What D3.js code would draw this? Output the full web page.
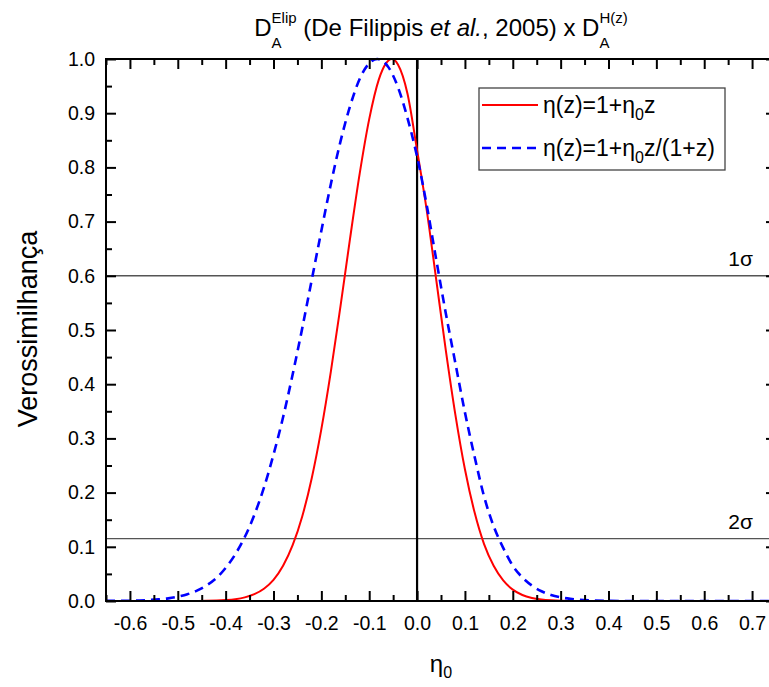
<!DOCTYPE html>
<html><head><meta charset="utf-8">
<script src="https://cdn.jsdelivr.net/npm/d3@7"></script>
<style>body{margin:0;background:#fff}svg{display:block}text{font-family:"Liberation Sans",Arial,sans-serif;white-space:pre}</style>
</head><body>
<svg id="c" width="769" height="687"></svg>
<script>
// ---- data ----
const etaRed = [-0.65,-0.50,-0.44,-0.40,-0.38,-0.36,-0.34,-0.32,-0.30,-0.28,-0.26,-0.24,-0.22,-0.20,-0.18,-0.16,-0.14,-0.12,-0.10,-0.08,-0.065,-0.053,-0.04,-0.02,0.00,0.02,0.04,0.06,0.08,0.10,0.12,0.14,0.16,0.18,0.20,0.22,0.24,0.26,0.28,0.30,0.35,0.75];
const likeRed = [0,0,0.0003,0.0017,0.0034,0.0067,0.0126,0.0226,0.039,0.065,0.103,0.156,0.227,0.317,0.424,0.544,0.669,0.788,0.889,0.962,0.992,1.000,0.990,0.936,0.832,0.722,0.593,0.463,0.344,0.243,0.164,0.105,0.065,0.038,0.021,0.011,0.0056,0.0027,0.0012,0.0005,0,0];
const etaBlue = [-0.65,-0.60,-0.58,-0.56,-0.54,-0.52,-0.50,-0.48,-0.46,-0.44,-0.42,-0.40,-0.38,-0.36,-0.34,-0.32,-0.30,-0.28,-0.26,-0.24,-0.22,-0.20,-0.18,-0.16,-0.14,-0.12,-0.10,-0.083,-0.06,-0.04,-0.02,0.00,0.02,0.04,0.06,0.08,0.10,0.12,0.14,0.16,0.18,0.20,0.22,0.24,0.26,0.28,0.30,0.32,0.34,0.36,0.40,0.45,0.75];
const likeBlue = [0.0002,0.0006,0.0010,0.0018,0.0030,0.0049,0.0079,0.0124,0.0191,0.0288,0.042,0.061,0.086,0.118,0.159,0.209,0.270,0.339,0.418,0.503,0.593,0.683,0.770,0.848,0.913,0.963,0.992,1.000,0.985,0.948,0.891,0.820,0.731,0.630,0.531,0.439,0.348,0.267,0.193,0.138,0.098,0.065,0.0435,0.0284,0.018,0.011,0.0067,0.0039,0.0022,0.0012,0.0003,0,0];
const sigmaLevels = [0.60, 0.115];
const sigmaLabels = ["1σ", "2σ"];
const xMajorTicks = [-0.6,-0.5,-0.4,-0.3,-0.2,-0.1,0.0,0.1,0.2,0.3,0.4,0.5,0.6,0.7];
const xMinorTicks = [-0.65,-0.55,-0.45,-0.35,-0.25,-0.15,-0.05,0.05,0.15,0.25,0.35,0.45,0.55,0.65,0.75];
const yMajorTicks = [0.0,0.1,0.2,0.3,0.4,0.5,0.6,0.7,0.8,0.9,1.0];
const yMinorTicks = [0.05,0.15,0.25,0.35,0.45,0.55,0.65,0.75,0.85,0.95];

const svg = d3.select("#c");
const L=106, R=776, T=59, B=601;
const x = d3.scaleLinear().domain([-0.65,0.75]).range([L,R]);
const y = d3.scaleLinear().domain([0,1]).range([B,T]);
const fmt = d => (Math.abs(d) < 1e-9 ? 0 : d).toFixed(1);
const tickFont = 19.5;

svg.append("clipPath").attr("id","clip").append("rect").attr("x",L).attr("y",T-3).attr("width",R-L).attr("height",B-T+3);

// sigma lines
svg.append("g").selectAll("line").data(sigmaLevels).join("line")
  .attr("x1",L).attr("x2",R).attr("y1",d=>y(d)).attr("y2",d=>y(d))
  .attr("stroke","#555").attr("stroke-width",1.4);
svg.append("g").selectAll("text").data(sigmaLevels).join("text")
  .attr("x",753).attr("y",d=>y(d)-10).attr("text-anchor","end")
  .attr("font-size",21).text((d,i)=>sigmaLabels[i]);

// zero line
svg.append("line").attr("x1",x(0)).attr("x2",x(0)).attr("y1",B).attr("y2",T)
  .attr("stroke","#000").attr("stroke-width",2.2);

// curves
const line = d3.line().curve(d3.curveMonotoneX);
const g = svg.append("g").attr("clip-path","url(#clip)");
g.append("path").attr("d", line(etaRed.map((e,i)=>[x(e),y(likeRed[i])])))
  .attr("fill","none").attr("stroke","#ff0000").attr("stroke-width",2);
g.append("path").attr("d", line(etaBlue.map((e,i)=>[x(e),y(likeBlue[i])])))
  .attr("fill","none").attr("stroke","#0000ff").attr("stroke-width",2.6).attr("stroke-dasharray","9,6");

// axes
function styleAx(sel){ sel.select(".domain").remove(); sel.selectAll("line").attr("stroke","#000").attr("stroke-width",2); sel.selectAll("text").attr("font-size",tickFont).attr("fill","#000").attr("font-family","Liberation Sans, Arial, sans-serif"); }
svg.append("g").attr("transform",`translate(0,${B})`)
  .call(d3.axisBottom(x).tickValues(xMajorTicks).tickFormat(fmt).tickSize(-10).tickPadding(15)).call(styleAx);
svg.append("g").attr("transform",`translate(0,${B})`)
  .call(d3.axisBottom(x).tickValues(xMinorTicks).tickFormat("").tickSize(-6)).call(styleAx);
svg.append("g").attr("transform",`translate(0,${T})`)
  .call(d3.axisTop(x).tickValues(xMajorTicks).tickFormat("").tickSize(-10)).call(styleAx);
svg.append("g").attr("transform",`translate(0,${T})`)
  .call(d3.axisTop(x).tickValues(xMinorTicks).tickFormat("").tickSize(-6)).call(styleAx);
svg.append("g").attr("transform",`translate(${L},0)`)
  .call(d3.axisLeft(y).tickValues(yMajorTicks).tickFormat(fmt).tickSize(-10).tickPadding(11)).call(styleAx);
svg.append("g").attr("transform",`translate(${L},0)`)
  .call(d3.axisLeft(y).tickValues(yMinorTicks).tickFormat("").tickSize(-6)).call(styleAx);
svg.append("g").attr("transform",`translate(${R},0)`)
  .call(d3.axisRight(y).tickValues(yMajorTicks).tickFormat("").tickSize(-10)).call(styleAx);
svg.append("g").attr("transform",`translate(${R},0)`)
  .call(d3.axisRight(y).tickValues(yMinorTicks).tickFormat("").tickSize(-6)).call(styleAx);
// frame
svg.append("rect").attr("x",L).attr("y",T).attr("width",R-L).attr("height",B-T)
  .attr("fill","none").attr("stroke","#000").attr("stroke-width",2);

// axis titles
svg.append("text").attr("transform","translate(37,329) rotate(-90)")
  .attr("text-anchor","middle").attr("font-size",27).text("Verossimilhança");
const xt = svg.append("text").attr("x",441).attr("y",672).attr("text-anchor","middle").attr("font-size",24);
xt.append("tspan").text("η");
xt.append("tspan").attr("font-size",16).attr("dy",6).text("0");

// legend
const lg = svg.append("g");
lg.append("rect").attr("x",479).attr("y",88).attr("width",246).attr("height",82)
  .attr("fill","#fff").attr("stroke","#444").attr("stroke-width",1.3);
const legItems = [
  {color:"#ff0000", dash:null, w:2, y:105, parts:["η(z)=1+η","0","z"]},
  {color:"#0000ff", dash:"9,6", w:2.6, y:148, parts:["η(z)=1+η","0","z/(1+z)"]}
];
legItems.forEach(it=>{
  lg.append("line").attr("x1",482).attr("x2",538).attr("y1",it.y).attr("y2",it.y)
    .attr("stroke",it.color).attr("stroke-width",it.w).attr("stroke-dasharray",it.dash);
  const t = lg.append("text").attr("x",543).attr("y",it.y+8).attr("font-size",23);
  t.append("tspan").text(it.parts[0]);
  t.append("tspan").attr("font-size",16).attr("dy",7).text(it.parts[1]);
  t.append("tspan").attr("dy",-7).text(it.parts[2]);
});

// title
const tg = svg.append("g");
let cx = 0;
const base = 36, tf = 24, sf = 15;
function addText(str, opts={}){
  return tg.append("text").attr("x",cx).attr("y",opts.y ?? base).attr("font-size",opts.size ?? tf)
    .attr("font-style",opts.italic?"italic":null).text(str);
}
function advance(t){ cx += t.node().getComputedTextLength(); }
advance(addText("D"));
{ const s1 = addText("Elip",{size:sf,y:base-13}); const s2 = addText("A",{size:sf,y:base+12});
  cx += Math.max(s1.node().getComputedTextLength(), s2.node().getComputedTextLength()); }
advance(addText(" (De Filippis "));
advance(addText("et al.",{italic:true}));
advance(addText(", 2005) x D"));
{ const s1 = addText("H(z)",{size:sf,y:base-13}); const s2 = addText("A",{size:sf,y:base+12});
  cx += Math.max(s1.node().getComputedTextLength(), s2.node().getComputedTextLength()); }
tg.attr("transform",`translate(${441 - cx/2},0)`);
</script>
</body></html>
